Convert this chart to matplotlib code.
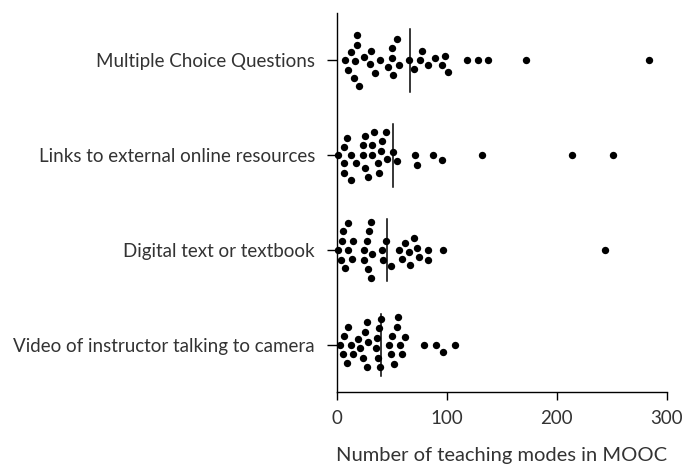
import matplotlib
matplotlib.use("Agg")
import matplotlib.pyplot as plt
import numpy as np

categories = [
    "Multiple Choice Questions",
    "Links to external online resources",
    "Digital text or textbook",
    "Video of instructor talking to camera",
]

mcq = [7, 10, 12, 15, 16, 18, 18, 20, 24, 30, 31, 34, 39, 46, 50, 50, 51,
       54, 56, 65, 70, 75, 77, 83, 89, 95, 98, 101, 118, 128, 137, 172, 284]
links = [1, 6, 6, 6, 9, 12, 12, 17, 23, 23, 25, 25, 28, 32, 32, 33, 37, 38,
         40, 41, 44, 45, 51, 54, 71, 73, 87, 95, 132, 214, 251]
text = [1, 3, 4, 5, 7, 10, 10, 13, 14, 24, 24, 27, 28, 29, 31, 31, 32, 41,
        42, 44, 49, 56, 59, 62, 65, 66, 70, 73, 74, 83, 83, 96, 244]
video = [2, 5, 6, 9, 10, 12, 14, 19, 21, 23, 25, 27, 27, 28, 35, 36, 37, 38,
         39, 40, 47, 49, 50, 52, 54, 55, 57, 59, 62, 79, 90, 96, 107]

series = [mcq, links, text, video]
x_ticks = [0, 100, 200, 300]

TEXT_COLOR = "#333333"
plt.rcParams["font.family"] = ["Lato", "DejaVu Sans"]


def swarm_offsets(x_px, d):
    # simple beeswarm: place each point as close to the centre line as possible
    placed = []
    out = []
    for x in x_px:
        cands = [0.0]
        for px, py in placed:
            dx = abs(x - px)
            if dx < d:
                h = np.sqrt(d * d - dx * dx)
                cands += [py + h, py - h]
        cands.sort(key=lambda c: (abs(c), c))
        for c in cands:
            if all((x - px) ** 2 + (c - py) ** 2 >= d * d - 1e-6 for px, py in placed):
                break
        placed.append((x, c))
        out.append(c)
    return np.array(out)


fig = plt.figure(figsize=(6.83, 4.67), dpi=100)
ax = fig.add_axes([0.4939, 0.160, 0.4822, 0.812])
ax.set_xlim(0, 300)
ax.set_ylim(3.5, -0.5)

for i, vals in enumerate(series):
    vals = np.sort(np.asarray(vals, dtype=float))
    pts = ax.transData.transform(np.column_stack([vals, np.full_like(vals, i)]))
    off = swarm_offsets(pts[:, 0], 9.8)
    pts[:, 1] = pts[:, 1] + off
    data_pts = ax.transData.inverted().transform(pts)
    ax.scatter(data_pts[:, 0], data_pts[:, 1], s=5.3 ** 2, color="black",
               linewidths=0, zorder=2, clip_on=False)
    m = np.mean(vals)
    ax.plot([m, m], [i - 0.33, i + 0.33], color="black", lw=1.1, zorder=3)

ax.set_xticks(x_ticks)
ax.set_yticks(range(len(categories)))
ax.set_yticklabels(categories)
ax.set_xlabel("Number of teaching modes in MOOC", fontsize=14.5,
              color=TEXT_COLOR, labelpad=14)

for side in ["top", "right"]:
    ax.spines[side].set_visible(False)
for side in ["left", "bottom"]:
    ax.spines[side].set_linewidth(1.0)
    ax.spines[side].set_color("black")

ax.tick_params(axis="x", length=6, width=1.0, labelsize=13.5, pad=7,
               labelcolor=TEXT_COLOR)
ax.tick_params(axis="y", length=7, width=1.0, labelsize=13.5, pad=9,
               labelcolor=TEXT_COLOR)

fig.savefig("out.png", dpi=100)
